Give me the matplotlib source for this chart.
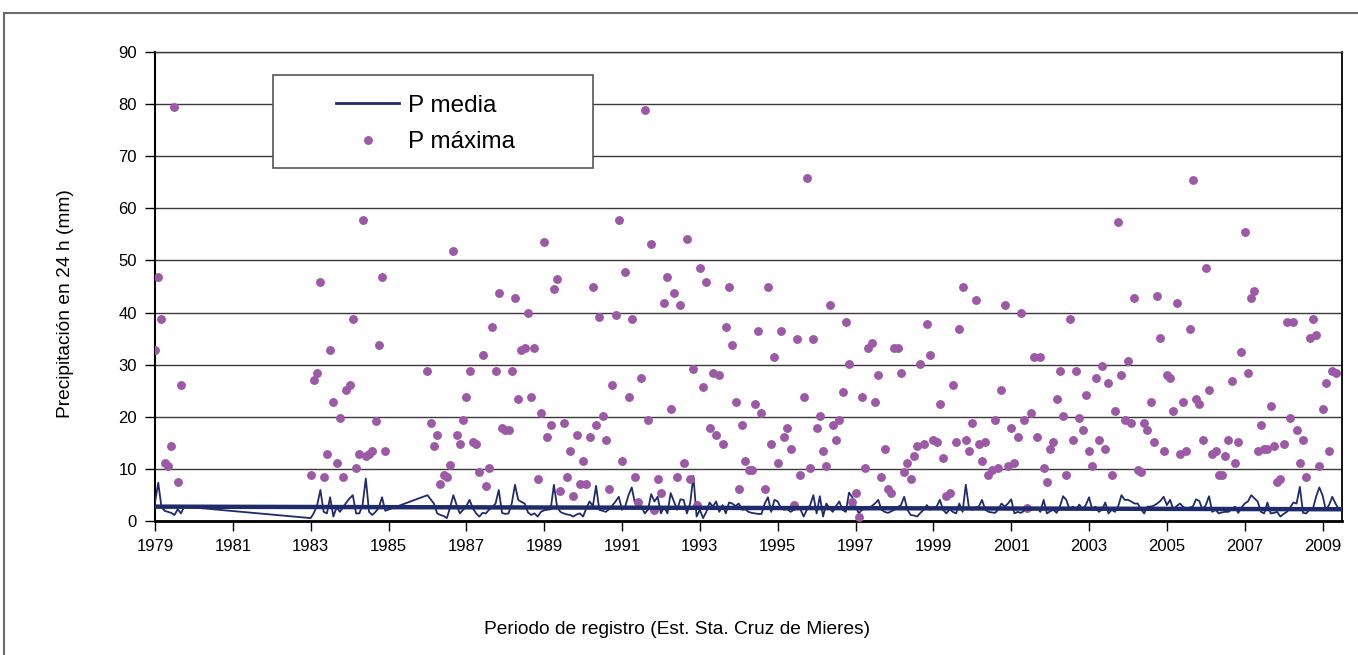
import numpy as np
import matplotlib
matplotlib.use("Agg")
import matplotlib.pyplot as plt
from matplotlib.patches import Rectangle
from matplotlib.lines import Line2D

nan = np.nan

# ---- data: monthly values, three recorded periods ----
start_1979 = (1979, 1)
pmedia_1979 = [3.5, 7.3, 2.6, 1.9, 1.7, 1.5, 1.1, 2.2, 1.4, 2.7]
pmax_1979 = [32.8, 46.8, 38.7, 11.1, 10.6, 14.3, 79.4, 7.5, 26.0, nan]

start_1983 = (1983, 1)
pmedia_1983_84 = [0.5, 1.5, 3.0, 5.9, 1.7, 1.4, 4.5, 0.8, 2.6, 1.7, 2.6, 3.5,
                  4.3, 4.9, 1.4, 1.4, 3.0, 8.1, 1.7, 1.1, 1.7, 2.5, 4.5, 1.9]
pmax_1983_84 = [8.8, 27.0, 28.3, 45.9, 8.4, 12.9, 32.8, 22.9, 11.1, 19.7, 8.4, 25.1,
                26.0, 38.7, 10.2, 12.9, 57.7, 12.4, 12.9, 13.3, 19.2, 33.7, 46.8, 13.3]

start_1986 = (1986, 1)
pmedia_1986_09 = [
    4.9, 4.1, 3.3, 1.4, 1.1, 0.9, 0.5, 2.6, 4.9, 3.0,
    1.4, 2.1, 2.8, 4.0, 2.4, 1.4, 0.8, 1.5, 1.4, 2.1,
    2.6, 3.3, 5.9, 1.5, 1.3, 1.4, 3.3, 6.9, 4.0, 3.6,
    3.3, 1.6, 1.1, 1.4, 0.8, 1.7, 2.0, 2.1, 2.2, 6.9,
    2.6, 1.7, 1.4, 1.2, 1.1, 0.8, 1.2, 1.4, 0.8, 2.4,
    3.7, 2.8, 6.7, 2.1, 1.9, 1.7, 2.2, 2.9, 3.7, 4.6,
    2.1, 2.8, 4.9, 6.4, 3.3, 4.0, 2.7, 1.4, 2.1, 5.1,
    3.7, 4.6, 1.4, 2.7, 1.4, 5.3, 3.7, 2.1, 4.1, 4.0,
    1.4, 3.3, 8.6, 0.8, 2.1, 0.5, 1.7, 3.5, 2.7, 3.7,
    1.7, 3.0, 1.4, 3.5, 3.3, 2.8, 3.3, 2.1, 2.2, 1.7,
    1.5, 1.4, 1.3, 1.3, 3.3, 4.5, 1.7, 4.0, 3.7, 2.4,
    2.1, 2.2, 1.7, 2.1, 2.2, 2.2, 0.8, 2.1, 3.0, 4.9,
    1.4, 4.7, 0.8, 3.3, 2.4, 1.7, 2.8, 3.7, 2.1, 1.7,
    5.4, 4.5, 2.8, 1.4, 2.1, 2.2, 2.2, 2.8, 3.3, 4.0,
    2.1, 1.7, 1.5, 1.8, 2.1, 2.6, 3.0, 4.6, 2.1, 1.1,
    1.0, 0.8, 1.5, 2.1, 3.0, 2.1, 2.5, 2.7, 4.0, 2.1,
    1.4, 2.2, 1.7, 1.4, 3.3, 1.7, 6.9, 2.4, 2.1, 2.5,
    2.7, 4.0, 2.1, 1.7, 1.6, 1.5, 2.1, 3.3, 2.7, 3.3,
    4.1, 1.4, 1.7, 1.5, 1.9, 2.2, 2.1, 2.2, 2.4, 1.7,
    4.0, 1.4, 1.8, 2.1, 1.5, 2.7, 4.7, 4.0, 2.1, 2.7,
    2.1, 3.1, 2.2, 3.0, 4.5, 2.1, 2.7, 1.7, 2.1, 3.5,
    1.4, 2.1, 1.7, 2.8, 4.9, 4.0, 4.0, 3.7, 3.3, 3.3,
    2.2, 1.4, 2.7, 2.7, 2.9, 3.3, 3.8, 4.6, 3.0, 4.0,
    2.1, 2.8, 3.3, 2.7, 2.1, 2.5, 2.7, 4.1, 3.8, 2.1,
    3.0, 4.7, 1.7, 2.1, 1.4, 1.6, 1.7, 1.7, 2.2, 2.7,
    1.5, 2.5, 3.3, 3.7, 4.9, 4.3, 3.7, 1.7, 1.4, 3.5,
    1.4, 1.5, 1.7, 0.8, 1.3, 1.7, 2.5, 3.5, 3.3, 6.5,
    1.5, 1.4, 2.2, 2.2, 4.6, 6.4, 4.9, 2.1, 3.0, 4.6,
    3.3, 2.2]
pmax_1986_09 = [
    28.8, 18.8, 14.3, 16.5, 7.0, 8.8, 8.4, 10.7, 51.8, 16.5,
    14.7, 19.3, 23.8, 28.8, 15.2, 14.7, 9.3, 31.9, 6.6, 10.2,
    37.3, 28.8, 43.7, 17.9, 17.4, 17.4, 28.8, 42.7, 23.3, 32.8,
    33.2, 40.0, 23.8, 33.2, 8.0, 20.6, 53.6, 16.1, 18.3, 44.5,
    46.4, 5.7, 18.8, 8.4, 13.4, 4.8, 16.5, 7.0, 11.5, 7.0,
    16.1, 45.0, 18.3, 39.1, 20.2, 15.6, 6.1, 26.0, 39.6, 57.7,
    11.5, 47.7, 23.8, 38.7, 8.4, 3.5, 27.4, 79.0, 19.3, 53.2,
    2.1, 8.0, 5.3, 41.8, 46.8, 21.5, 43.7, 8.4, 41.5, 11.1,
    54.1, 8.0, 29.2, 3.0, 48.6, 25.6, 45.9, 17.9, 28.3, 16.5,
    27.9, 14.7, 37.3, 45.0, 33.7, 22.9, 6.1, 18.3, 11.5, 9.7,
    9.7, 22.4, 36.5, 20.6, 6.1, 45.0, 14.7, 31.5, 11.1, 36.5,
    16.1, 17.9, 13.8, 3.0, 35.0, 8.8, 23.8, 65.8, 10.2, 35.0,
    17.9, 20.2, 13.3, 10.6, 41.5, 18.3, 15.6, 19.3, 24.7, 38.2,
    30.1, 3.5, 5.3, 0.8, 23.8, 10.2, 33.2, 34.1, 22.9, 27.9,
    8.4, 13.8, 6.1, 5.3, 33.2, 33.2, 28.3, 9.3, 11.1, 8.0,
    12.5, 14.3, 30.1, 14.7, 37.8, 31.9, 15.6, 15.2, 22.4, 12.0,
    4.8, 5.3, 26.0, 15.2, 36.9, 45.0, 15.6, 13.3, 18.8, 42.4,
    14.7, 11.5, 15.2, 8.8, 9.7, 19.3, 10.2, 25.1, 41.5, 10.6,
    17.9, 11.1, 16.1, 40.0, 19.3, 2.5, 20.6, 31.5, 16.1, 31.5,
    10.2, 7.4, 13.8, 15.2, 23.3, 28.8, 20.2, 8.8, 38.7, 15.6,
    28.8, 19.7, 17.4, 24.2, 13.3, 10.6, 27.4, 15.6, 29.7, 13.8,
    26.5, 8.8, 21.1, 57.3, 27.9, 19.3, 30.6, 18.8, 42.8, 9.7,
    9.3, 18.8, 17.4, 22.9, 15.2, 43.2, 35.1, 13.3, 27.9, 27.4,
    21.1, 41.8, 12.9, 22.9, 13.3, 36.9, 65.4, 23.3, 22.4, 15.6,
    48.6, 25.1, 12.9, 13.3, 8.8, 8.8, 12.4, 15.6, 26.9, 11.1,
    15.2, 32.4, 55.4, 28.3, 42.8, 44.2, 13.3, 18.3, 13.8, 13.8,
    22.0, 14.3, 7.4, 8.0, 14.7, 38.2, 19.7, 38.2, 17.4, 11.1,
    15.6, 8.4, 35.1, 38.7, 35.6, 10.6, 21.5, 26.5, 13.3, 28.8,
    28.3, nan]

# linear trend of P media (end points)
trend_years = [1979.0, 2009.5]
trend_values = [2.7, 2.2]

year_ticks = list(range(1979, 2010, 2))
y_ticks = list(range(0, 91, 10))


def month_positions(start, n):
    y0, m0 = start
    return y0 + (m0 - 1 + np.arange(n)) / 12.0


x = np.concatenate([month_positions(start_1979, len(pmedia_1979)),
                    month_positions(start_1983, len(pmedia_1983_84)),
                    month_positions(start_1986, len(pmedia_1986_09))])
media = np.array(pmedia_1979 + pmedia_1983_84 + pmedia_1986_09, dtype=float)
pmax = np.array(pmax_1979 + pmax_1983_84 + pmax_1986_09, dtype=float)

# ---- styling ----
NAVY = "#1f2b6b"
PURPLE = "#9c5aa6"
narrow = ["Liberation Sans Narrow", "Liberation Sans", "DejaVu Sans"]
regular = ["Liberation Sans", "DejaVu Sans"]

W, H = 1358, 655
fig = plt.figure(figsize=(W / 100, H / 100), dpi=100)
ax = fig.add_axes([155 / W, (H - 520.7) / H, 1187 / W, 468.4 / H])

ax.plot(x, media, color=NAVY, lw=1.3, zorder=3)
ax.plot(x, pmax, linestyle="none", marker="o", ms=6.4, color=PURPLE,
        markeredgecolor="none", zorder=4)
ax.plot(trend_years, trend_values, color=NAVY, lw=3.2, zorder=5,
        solid_capstyle="butt")

ax.set_xlim(1979.0, 2009.5)
ax.set_ylim(0, 90)
ax.set_xticks(year_ticks)
ax.set_xticklabels([str(y) for y in year_ticks])
ax.set_yticks(y_ticks)
ax.yaxis.grid(True, color="#3a3a3a", lw=1.0)
ax.set_axisbelow(True)

ax.tick_params(axis="both", direction="out", length=7, width=1.0,
               colors="black", labelsize=12.0, pad=6)
for lab in ax.get_xticklabels() + ax.get_yticklabels():
    lab.set_family(narrow)

ax.spines["left"].set_linewidth(1.5)
ax.spines["bottom"].set_linewidth(2.0)
ax.spines["right"].set_linewidth(1.3)
ax.spines["top"].set_linewidth(1.0)
ax.spines["top"].set_color("#3a3a3a")

# legend frame and legend
ax.add_patch(Rectangle(((273 - 155) / 1187, (520.7 - 168) / 468.4),
                       320 / 1187, 93 / 468.4, transform=ax.transAxes,
                       facecolor="white", edgecolor="#555555", lw=1.2, zorder=6))
handles = [Line2D([], [], color=NAVY, lw=2.0),
           Line2D([], [], linestyle="none", marker="o", ms=6.4, color=PURPLE,
                  markeredgecolor="none")]
leg = ax.legend(handles, ["P media", "P máxima"], frameon=False,
                loc="upper left", bbox_to_anchor=(324 / W, 1 - 82.5 / H),
                bbox_transform=fig.transFigure, borderpad=0,
                handlelength=2.6, handletextpad=0.35, labelspacing=0.6,
                prop={"family": regular, "size": 17.5})
leg.set_zorder(7)

fig.text(65 / W, 1 - 304 / H, "Precipitación en 24 h (mm)", rotation=90,
         ha="center", va="center", fontsize=13.8, family=narrow)
fig.text(677 / W, 1 - 629 / H, "Periodo de registro (Est. Sta. Cruz de Mieres)",
         ha="center", va="center", fontsize=13.8, family=narrow)

# outer chart frame (partially visible)
fig.add_artist(Rectangle((4 / W, -0.5), 2.0, 0.5 + (H - 13) / H,
                         transform=fig.transFigure, fill=False,
                         edgecolor="#6b6b6b", lw=1.5))

fig.savefig("out.png", dpi=100)
